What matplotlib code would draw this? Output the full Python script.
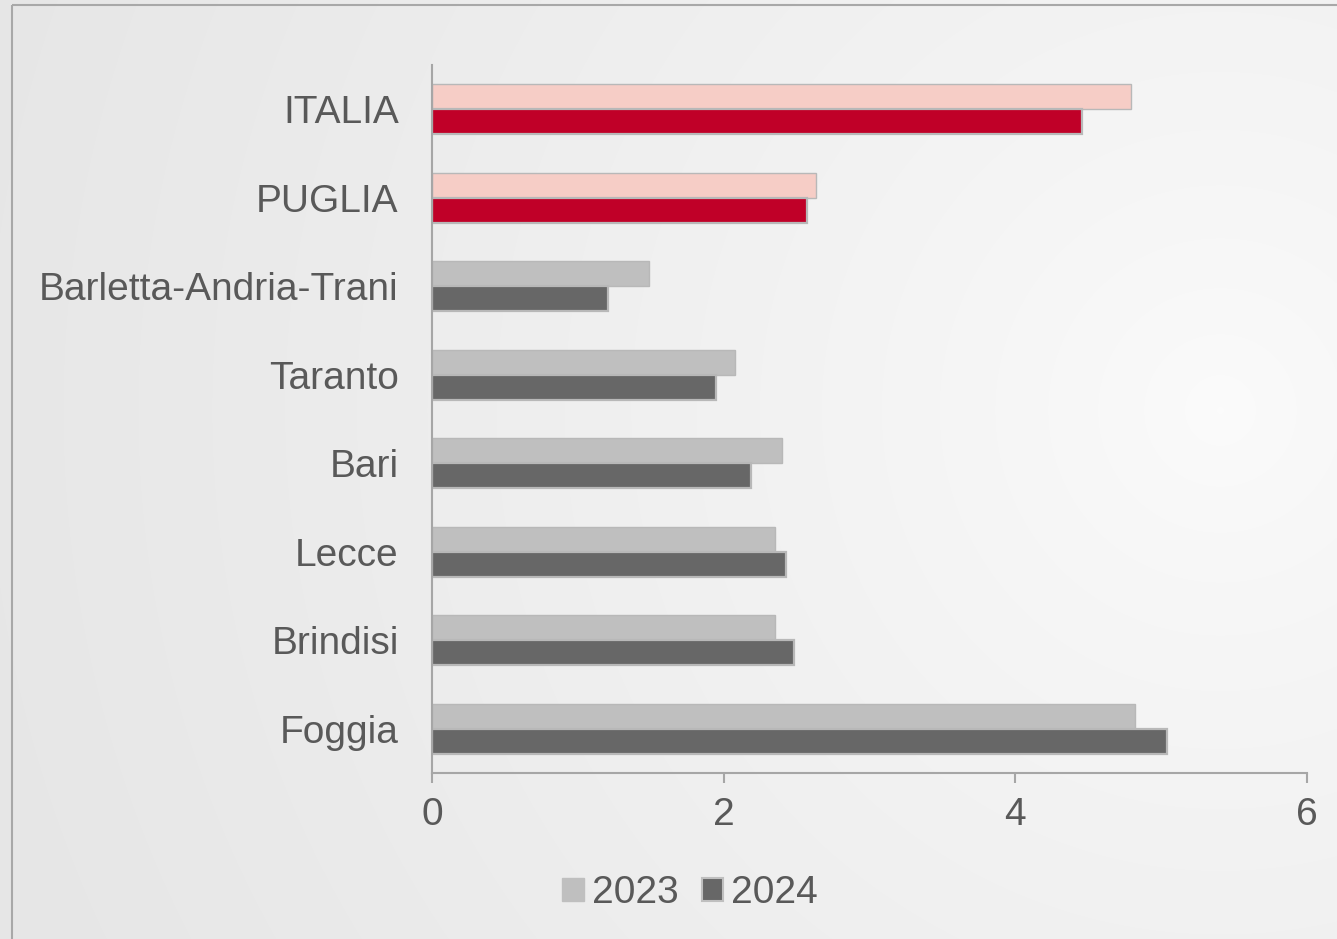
import numpy as np
import matplotlib.pyplot as plt
from matplotlib.patches import Patch, Rectangle

plt.rcParams["font.family"] = ["Liberation Sans", "DejaVu Sans"]

# ── data ──────────────────────────────────────────────────────────────────────
categories = ["ITALIA", "PUGLIA", "Barletta-Andria-Trani", "Taranto",
              "Bari", "Lecce", "Brindisi", "Foggia"]
val_2023 = [4.79, 2.63, 1.49, 2.08, 2.40, 2.35, 2.35, 4.82]
val_2024 = [4.46, 2.57, 1.21, 1.95, 2.19, 2.43, 2.48, 5.04]
years = ["2023", "2024"]
x_ticks = [0, 2, 4, 6]

# colours
RED_LIGHT = "#F6CDC6"
RED_DARK = "#C00028"
GREY_LIGHT = "#BFBFBF"
GREY_DARK = "#676767"
EDGE = "#B8B8B8"
TXT = "#595959"
AXIS = "#A6A6A6"

W, H = 1337, 939
fig = plt.figure(figsize=(W / 100, H / 100), dpi=100)

# ── background gradient ───────────────────────────────────────────────────────
bg = fig.add_axes([0, 0, 1, 1], zorder=-10)
yy, xx = np.mgrid[0:H, 0:W]
r = np.sqrt((xx - 1220) ** 2 + (yy - 410) ** 2) / 1250
shade = 0.985 - 0.08 * np.clip(r, 0, 1) ** 0.8
bg.imshow(np.dstack([shade] * 3), extent=[0, W, H, 0], aspect="auto")
bg.set_xlim(0, W)
bg.set_ylim(H, 0)
bg.axis("off")
bg.add_patch(Rectangle((12, 5), W, H, fill=False, edgecolor="#A8A8A8", lw=1.5))

# ── bars ──────────────────────────────────────────────────────────────────────
ax = fig.add_axes([432 / W, 1 - 773 / H, 875 / W, 708 / H])
ax.patch.set_alpha(0)

y = np.arange(len(categories))
h = 0.28
c23 = [RED_LIGHT if i < 2 else GREY_LIGHT for i in range(len(categories))]
c24 = [RED_DARK if i < 2 else GREY_DARK for i in range(len(categories))]
ax.barh(y - h / 2, val_2023, height=h, color=c23, edgecolor=EDGE, linewidth=1.0)
ax.barh(y + h / 2, val_2024, height=h, color=c24, edgecolor=EDGE, linewidth=1.6)

ax.set_ylim(len(categories) - 0.5, -0.5)
ax.set_xlim(0, 6)
ax.set_yticks(y)
ax.set_yticklabels(categories, fontsize=28, color=TXT)
ax.tick_params(axis="y", length=0, pad=24)
ax.set_xticks(x_ticks)
ax.set_xticklabels([str(t) for t in x_ticks], fontsize=28, color=TXT)
ax.tick_params(axis="x", length=7, width=1.5, color=AXIS, pad=10)

for s in ["top", "right"]:
    ax.spines[s].set_visible(False)
for s in ["left", "bottom"]:
    ax.spines[s].set_color(AXIS)
    ax.spines[s].set_linewidth(1.5)

# ── legend ────────────────────────────────────────────────────────────────────
handles = [Patch(facecolor=GREY_LIGHT, edgecolor=GREY_LIGHT),
           Patch(facecolor=GREY_DARK, edgecolor=GREY_LIGHT, linewidth=1.5)]
fig.legend(handles, years, loc="center", bbox_to_anchor=(690 / W, 1 - 893 / H),
           ncol=2, frameon=False, fontsize=28, labelcolor=TXT,
           handlelength=0.55, handleheight=0.55, handletextpad=0.2,
           columnspacing=0.6)

fig.savefig("out.png", dpi=100)
